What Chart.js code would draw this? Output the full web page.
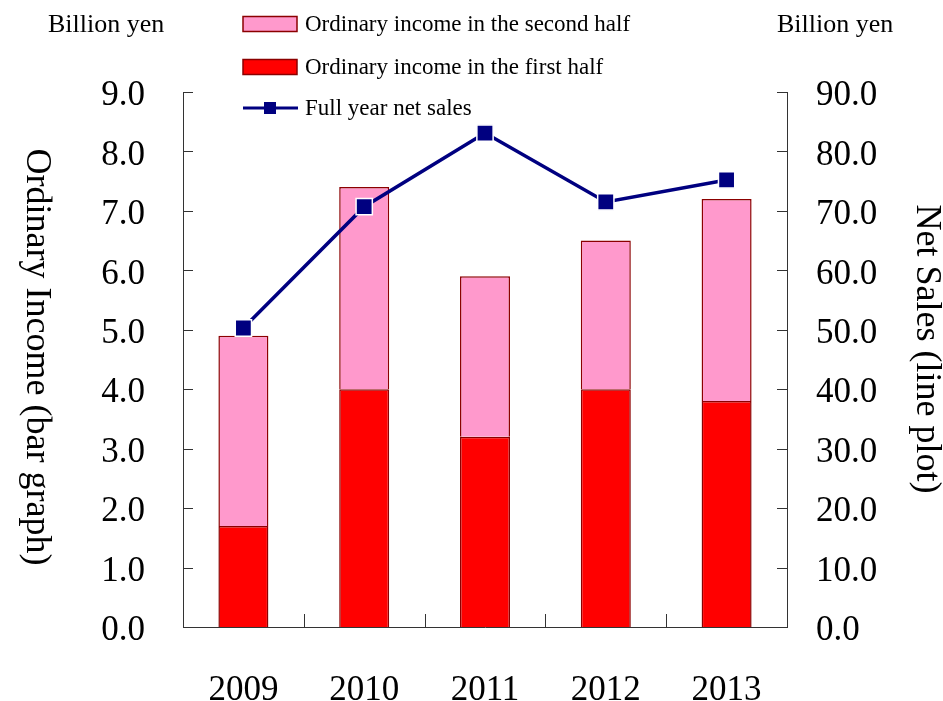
<!DOCTYPE html>
<html>
<head>
<meta charset="utf-8">
<script src="https://cdn.jsdelivr.net/npm/chart.js@4"></script>
<style>
  html, body { margin: 0; padding: 0; background: #fff; }
  #wrap { width: 943px; height: 701px; }
</style>
</head>
<body>
<div id="wrap"><canvas id="incomeChart" width="943" height="701"></canvas></div>
<script>
//// data
const years = ['2009', '2010', '2011', '2012', '2013'];
const firstHalf = [1.7, 4.0, 3.2, 4.0, 3.8];   // billion yen
const secondHalf = [3.2, 3.4, 2.7, 2.5, 3.4];  // billion yen
const netSales = [50.3, 70.7, 83.1, 71.5, 75.2]; // billion yen

const leftTitle = 'Ordinary Income (bar graph)';
const rightTitle = 'Net Sales (line plot)';
const unitLabel = 'Billion yen';

const serif = "'Liberation Serif', 'Times New Roman', serif";
const barEdge = '#8b0000';
const navy = '#000080';

// axis lines, inward ticks, legend, rotated titles
const decor = {
  id: 'decor',
  afterDraw(chart) {
    const ctx = chart.ctx;
    const a = chart.chartArea;
    const y = chart.scales.y, y1 = chart.scales.y1, x = chart.scales.x;
    ctx.save();
    ctx.strokeStyle = '#333';
    ctx.lineWidth = 1;
    ctx.beginPath();
    y.ticks.forEach(t => {
      const p = Math.round(y.getPixelForValue(t.value)) + 0.5;
      ctx.moveTo(a.left, p); ctx.lineTo(a.left + 10, p);
    });
    y1.ticks.forEach(t => {
      const p = Math.round(y1.getPixelForValue(t.value)) + 0.5;
      ctx.moveTo(a.right - 10, p); ctx.lineTo(a.right, p);
    });
    const step = x.getPixelForValue(1) - x.getPixelForValue(0);
    for (let i = 1; i < years.length; i++) {
      const p = Math.round(x.getPixelForValue(i) - step / 2) + 0.5;
      ctx.moveTo(p, a.bottom); ctx.lineTo(p, a.bottom - 13);
    }
    ctx.stroke();

    // unit labels
    ctx.fillStyle = '#000';
    ctx.font = '26px ' + serif;
    ctx.textBaseline = 'middle';
    ctx.textAlign = 'left';
    ctx.fillText(unitLabel, 48, 25);
    ctx.fillText(unitLabel, 777, 25);

    // legend
    const ds = chart.data.datasets;
    const items = [
      { d: ds[1], y: 24, kind: 'box' },
      { d: ds[0], y: 67, kind: 'box' },
      { d: ds[2], y: 108, kind: 'line' }
    ];
    ctx.font = '23px ' + serif;
    items.forEach(it => {
      if (it.kind === 'box') {
        ctx.fillStyle = it.d.backgroundColor;
        ctx.fillRect(243, it.y - 7.5, 54, 15);
        ctx.strokeStyle = it.d.borderColor;
        ctx.lineWidth = 1.5;
        ctx.strokeRect(243, it.y - 7.5, 54, 15);
      } else {
        ctx.strokeStyle = it.d.borderColor;
        ctx.lineWidth = 3;
        ctx.beginPath();
        ctx.moveTo(243, it.y); ctx.lineTo(298, it.y);
        ctx.stroke();
        ctx.fillStyle = it.d.pointBackgroundColor;
        ctx.fillRect(264, it.y - 6, 12, 12);
      }
      ctx.fillStyle = '#000';
      ctx.fillText(it.d.label, 305, it.y + 1);
    });

    // axis titles, both reading top to bottom
    ctx.font = '36px ' + serif;
    ctx.textAlign = 'center';
    [[36, 357, leftTitle], [926, 349, rightTitle]].forEach(([tx, ty, s]) => {
      ctx.save();
      ctx.translate(tx, ty);
      ctx.rotate(Math.PI / 2);
      ctx.fillText(s, 0, 0);
      ctx.restore();
    });
    ctx.restore();
  }
};

const data = {
  labels: years,
  datasets: [
    {
      type: 'bar',
      label: 'Ordinary income in the first half',
      data: firstHalf,
      backgroundColor: '#ff0000',
      borderColor: barEdge,
      borderWidth: 1.5,
      yAxisID: 'y',
      stack: 'income',
      order: 2
    },
    {
      type: 'bar',
      label: 'Ordinary income in the second half',
      data: secondHalf,
      backgroundColor: '#ff99cc',
      borderColor: barEdge,
      borderWidth: 1.5,
      yAxisID: 'y',
      stack: 'income',
      order: 2
    },
    {
      type: 'line',
      label: 'Full year net sales',
      data: netSales,
      yAxisID: 'y1',
      borderColor: navy,
      borderWidth: 3.5,
      tension: 0,
      fill: false,
      pointStyle: 'rect',
      pointRadius: 11.5,
      pointHoverRadius: 11.5,
      pointBackgroundColor: navy,
      pointBorderColor: '#fff',
      pointBorderWidth: 1.5,
      order: 0
    }
  ]
};

const options = {
  responsive: false,
  animation: false,
  layout: { padding: { top: 92, left: 0, right: 0, bottom: 0 } },
  plugins: {
    legend: { display: false },
    tooltip: { enabled: false }
  },
  datasets: {
    bar: { categoryPercentage: 1, barPercentage: 0.414 }
  },
  scales: {
    x: {
      stacked: true,
      grid: { display: false, drawTicks: false },
      border: { display: true, color: '#333', width: 1 },
      ticks: { color: '#000', padding: 43, font: { family: serif, size: 35 } },
      afterFit(s) { s.height = 74; }
    },
    y: {
      position: 'left',
      stacked: true,
      min: 0,
      max: 9,
      grid: { display: false, drawTicks: false },
      border: { display: true, color: '#333', width: 1 },
      ticks: {
        stepSize: 1,
        color: '#000',
        padding: 38,
        labelOffset: 4,
        font: { family: serif, size: 35 },
        callback: v => v.toFixed(1)
      },
      afterFit(s) { s.width = 183; }
    },
    y1: {
      position: 'right',
      min: 0,
      max: 90,
      grid: { display: false, drawTicks: false },
      border: { display: true, color: '#333', width: 1 },
      ticks: {
        stepSize: 10,
        color: '#000',
        padding: 29,
        labelOffset: 4,
        font: { family: serif, size: 35 },
        callback: v => v.toFixed(1)
      },
      afterFit(s) { s.width = 156; }
    }
  }
};

new Chart(document.getElementById('incomeChart'), {
  type: 'bar',
  data,
  options,
  plugins: [decor]
});
</script>
</body>
</html>
